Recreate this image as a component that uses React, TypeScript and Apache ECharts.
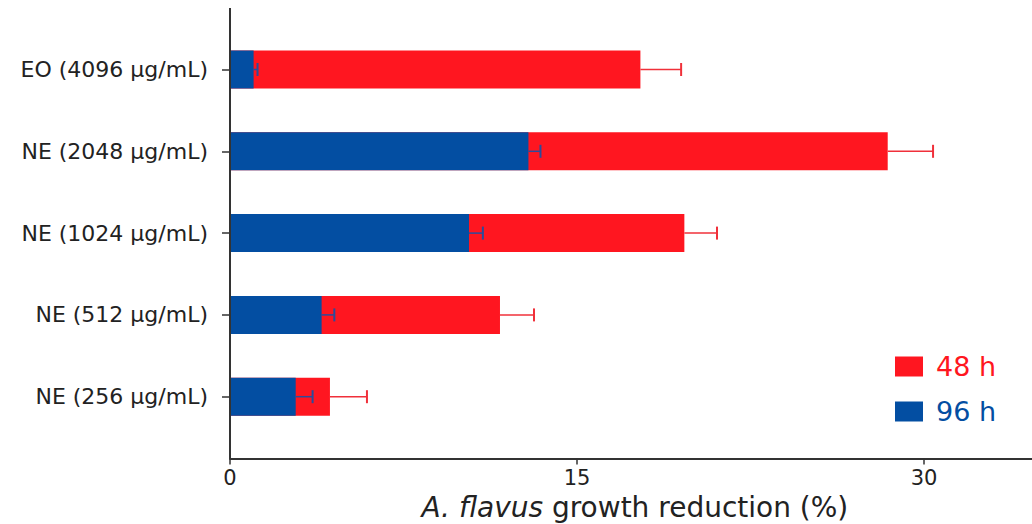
import React, { useEffect, useRef } from "react";
import * as echarts from "echarts";

const categories = [
  "EO (4096 µg/mL)",
  "NE (2048 µg/mL)",
  "NE (1024 µg/mL)",
  "NE (512 µg/mL)",
  "NE (256 µg/mL)",
];
const values48 = [17.74, 28.43, 19.64, 11.67, 4.32];
const errors48 = [1.76, 1.96, 1.41, 1.47, 1.6];
const values96 = [1.02, 12.9, 10.33, 3.96, 2.84];
const errors96 = [0.17, 0.52, 0.6, 0.55, 0.73];
const xTicks = { min: 0, max: 35, interval: 15 };
const seriesNames = ["48 h", "96 h"];

const RED = "#FF1620";
const BLUE = "#034EA2";
const RED_ERR = "#F0303A";
const BLUE_ERR = "#2A4C9C";
const FONT = "DejaVu Sans";

function errorSeries(name: string, vals: number[], errs: number[], color: string) {
  return {
    type: "custom",
    name: name + " err",
    z: 10,
    silent: true,
    encode: { x: [0, 1], y: 2 },
    data: vals.map((v, i) => [v, v + errs[i], i]),
    renderItem: (params: any, api: any) => {
      const a = api.coord([api.value(0), api.value(2)]);
      const b = api.coord([api.value(1), api.value(2)]);
      const h = 6.5;
      return {
        type: "group",
        children: [
          {
            type: "line",
            shape: { x1: a[0], y1: a[1], x2: b[0], y2: b[1] },
            style: { stroke: color, lineWidth: 1.5 },
          },
          {
            type: "line",
            shape: { x1: b[0], y1: b[1] - h, x2: b[0], y2: b[1] + h },
            style: { stroke: color, lineWidth: 2 },
          },
        ],
      };
    },
  };
}

export default function App() {
  const ref = useRef<HTMLDivElement>(null);
  useEffect(() => {
    if (!ref.current) return;
    const chart = echarts.init(ref.current, null, { renderer: "svg" });
    chart.setOption({
      animation: false,
      backgroundColor: "#ffffff",
      grid: {
        left: 230,
        width: 809.7,
        top: 28.6,
        height: 409,
        containLabel: false,
        outerBoundsMode: "none",
      },
      legend: {
        orient: "vertical",
        left: 895,
        top: 353,
        padding: 0,
        itemWidth: 28,
        itemHeight: 20,
        itemGap: 18,
        icon: "rect",
        selectedMode: false,
        data: [
          { name: seriesNames[0], textStyle: { color: RED } },
          { name: seriesNames[1], textStyle: { color: BLUE } },
        ],
        textStyle: { fontFamily: FONT, fontSize: 27, lineHeight: 20, padding: [0, 0, 0, 8] },
      },
      xAxis: {
        type: "value",
        min: xTicks.min,
        max: xTicks.max,
        interval: xTicks.interval,
        offset: 21,
        splitLine: { show: false },
        axisLine: { show: true, lineStyle: { color: "#333", width: 2 } },
        axisTick: { show: true, length: 6, lineStyle: { color: "#333", width: 1.5 } },
        axisLabel: {
          showMaxLabel: false,
          margin: 9,
          fontFamily: FONT,
          fontSize: 21,
          color: "#222",
        },
        name: "{i|A. flavus} growth reduction (%)",
        nameLocation: "middle",
        nameGap: 34,
        nameTextStyle: {
          fontFamily: FONT,
          fontSize: 28,
          color: "#222",
          rich: {
            i: { fontFamily: FONT, fontSize: 28, fontStyle: "italic", color: "#222" },
          },
        },
      },
      yAxis: {
        type: "category",
        data: categories,
        inverse: true,
        axisLine: { show: false },
        axisTick: {
          show: true,
          alignWithLabel: true,
          length: 8,
          lineStyle: { color: "#333", width: 1.5 },
        },
        axisLabel: { margin: 22, fontFamily: FONT, fontSize: 22, color: "#222" },
      },
      graphic: [
        {
          type: "line",
          shape: { x1: 230, y1: 8, x2: 230, y2: 459 },
          style: { stroke: "#333", lineWidth: 2 },
          z: 100,
        },
      ],
      series: [
        {
          type: "bar",
          name: seriesNames[0],
          data: values48,
          barWidth: 38,
          barGap: "-100%",
          itemStyle: { color: RED },
          z: 2,
        },
        {
          type: "bar",
          name: seriesNames[1],
          data: values96,
          barWidth: 38,
          barGap: "-100%",
          itemStyle: { color: BLUE },
          z: 3,
        },
        errorSeries("48 h", values48, errors48, RED_ERR),
        errorSeries("96 h", values96, errors96, BLUE_ERR),
      ],
    });
    return () => chart.dispose();
  }, []);
  return (
    <div
      ref={ref}
      style={{ position: "fixed", left: 0, top: 0, width: 1032, height: 524, overflow: "hidden" }}
    />
  );
}
